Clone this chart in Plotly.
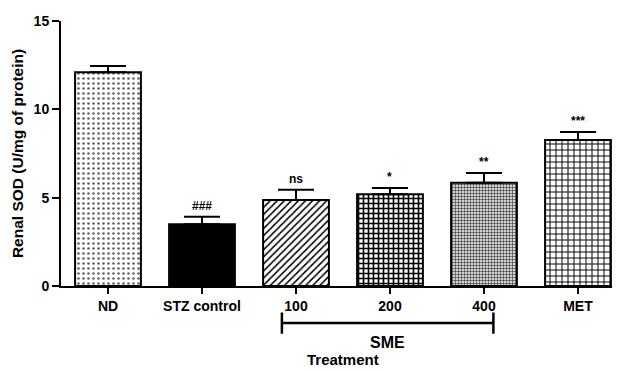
import plotly.graph_objects as go

categories = ["ND", "STZ control", "100", "200", "400", "MET"]
sod_mean = [12.1, 3.5, 4.87, 5.2, 5.85, 8.27]
sod_err = [0.35, 0.42, 0.58, 0.35, 0.55, 0.45]
sig_labels = ["", "###", "ns", "*", "**", "***"]

pat_shape = [".", "", "/", "+", ".", "+"]
pat_bg = ["white", "black", "white", "white", "white", "white"]
pat_fg = ["#666666", "black", "black", "black", "#444444", "black"]
pat_size = [5, 8, 5, 5, 3, 6]
pat_sol = [0.22, 0.3, 0.3, 0.55, 0.5, 0.3]

FONT = "Liberation Sans, Arial, sans-serif"

fig = go.Figure()
for i in range(len(categories)):
    fig.add_trace(go.Bar(
        x=[i],
        y=[sod_mean[i]],
        width=0.7,
        marker=dict(
            color=pat_bg[i],
            line=dict(color="black", width=2),
            pattern=dict(shape=pat_shape[i], fgcolor=pat_fg[i], bgcolor=pat_bg[i],
                         size=pat_size[i], solidity=pat_sol[i], fillmode="replace"),
        ),
        error_y=dict(type="data", symmetric=False, array=[sod_err[i]],
                     arrayminus=[0], color="black", thickness=2, width=18),
        showlegend=False,
    ))

for i, (m, e, s) in enumerate(zip(sod_mean, sod_err, sig_labels)):
    if s:
        fig.add_annotation(x=i, y=m + e, text=f"<b>{s}</b>", showarrow=False,
                           yanchor="bottom", yshift=2,
                           font=dict(family=FONT, size=12, color="black"))

# SME bracket
x0, x1 = 1.85, 4.1
ybr = -0.14
fig.add_shape(type="line", xref="x", yref="paper", x0=x0, x1=x1, y0=ybr, y1=ybr,
              line=dict(color="black", width=2.5))
for xx in (x0, x1):
    fig.add_shape(type="line", xref="x", yref="paper", x0=xx, x1=xx,
                  y0=ybr + 0.04, y1=ybr - 0.04, line=dict(color="black", width=2.5))
fig.add_annotation(x=(x0 + x1) / 2, xref="x", y=-0.215, yref="paper", text="<b>SME</b>",
                   showarrow=False, yanchor="middle",
                   font=dict(family=FONT, size=16, color="black"))
fig.add_annotation(x=0.507, xref="paper", y=-0.279, yref="paper", text="<b>Treatment</b>",
                   showarrow=False, yanchor="middle", xanchor="center",
                   font=dict(family=FONT, size=15, color="black"))

# page body has an 8px default margin, so the figure is sized to fit
fig.update_layout(
    width=612, height=363,
    margin=dict(l=53, r=3, t=13, b=85),
    paper_bgcolor="white", plot_bgcolor="white",
    font=dict(family=FONT, color="black"),
    barmode="overlay",
)
fig.update_xaxes(
    tickmode="array", tickvals=list(range(len(categories))),
    ticktext=[f"<b>{c}</b>" for c in categories],
    range=[-0.5, 5.415], showline=True, linecolor="black", linewidth=2,
    ticks="outside", ticklen=6, tickwidth=2, tickcolor="black",
    tickfont=dict(family=FONT, size=14, color="black"), showgrid=False,
    zeroline=False, automargin=False,
)
fig.update_yaxes(
    range=[0, 15], tickvals=[0, 5, 10, 15],
    ticktext=["<b>0</b>", "<b>5</b>", "<b>10</b>", "<b>15</b>"],
    showline=True, linecolor="black", linewidth=2,
    ticks="outside", ticklen=7, tickwidth=2, tickcolor="black",
    tickfont=dict(family=FONT, size=14, color="black"), showgrid=False,
    zeroline=False, automargin=False,
    title=dict(text="<b>Renal SOD (U/mg of protein)</b>",
               font=dict(family=FONT, size=15.5, color="black"), standoff=6),
)

fig.write_html("out.html")
